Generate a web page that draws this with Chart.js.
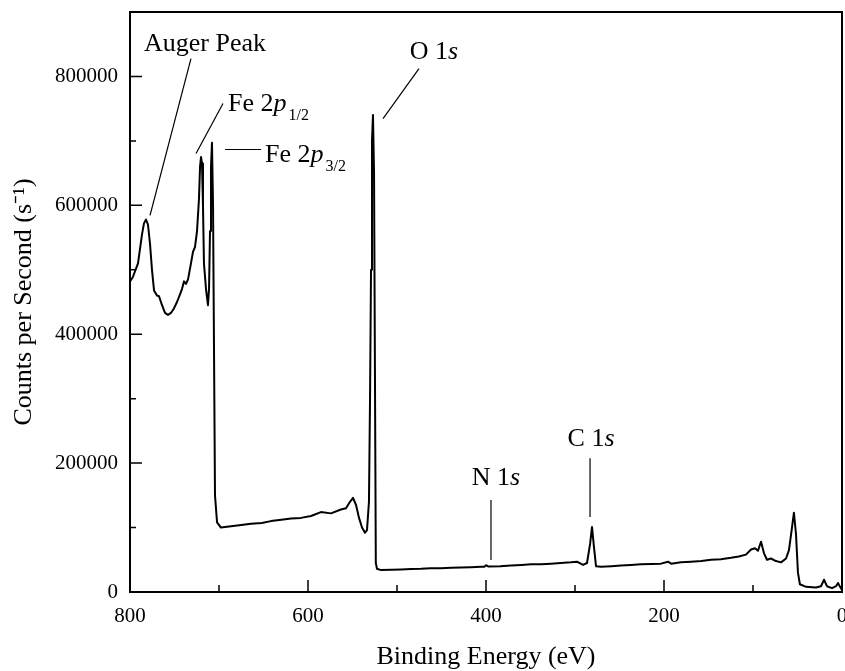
<!DOCTYPE html>
<html>
<head>
<meta charset="utf-8">
<script src="https://cdn.jsdelivr.net/npm/chart.js@4.4.1/dist/chart.umd.min.js"></script>
<style>
  html, body { margin: 0; padding: 0; background: #fff; }
  #wrap { width: 845px; height: 671px; position: relative; }
</style>
</head>
<body>
<div id="wrap"><canvas id="xpsChart"></canvas></div>
<script>
// binding energy (eV) and counts
const energy = [800, 797, 791, 786.5, 784.3, 782, 779.8, 777.5, 775.3, 773, 769.7, 767.4, 764, 760.7, 757.3, 754, 750.6, 747.2,
    743.8, 741.6, 739.3, 737.1, 734.8, 731.5, 729.2, 727, 724.7, 722.5, 721.3, 720.2, 719.1, 718, 716.9, 714.6, 712.4, 711.2,
    710.1, 709, 707.9, 706.7, 704.5, 702.2, 697.8, 686.5, 675, 664, 652, 641.6, 630, 619, 608, 596.6, 585.4, 574.2, 563,
    557.3, 552.8, 549.4, 546, 542.7, 539.3, 536, 533.7, 531.5, 530.3, 529.2, 528.1, 527, 525.8, 523.8, 522.5, 518,
    506, 495.5, 484, 473, 462, 450.6, 439, 428, 417, 405.6, 402, 400, 397, 384, 372, 360, 349.4, 338, 327, 316, 304.5, 297.8,
    291, 286.5, 283, 280.9, 278.7, 276.4, 270.8, 259, 248.3, 237, 226, 214, 203.4, 195.5, 192, 181, 169.7, 158, 147.2, 136,
    124.7, 116, 107.9, 102.2, 97.8, 94.4, 91, 87.6, 84.3, 79.8, 74.2, 68.5, 62.9, 59.6, 56.2, 54, 51.7, 49.5, 47.3, 40.4, 29.2,
    23.6, 20.2, 16.9, 11.2, 6.7, 4.5, 2.2, 0];
const counts = [482000, 488000, 510000, 555000, 572000, 578000, 570000, 540000, 500000, 468000, 460000, 459000, 445000, 433000,
    430000, 433000, 440000, 450000, 462000, 470000, 482000, 478000, 485000, 510000, 528000, 535000, 560000, 610000, 660000,
    675000, 665000, 600000, 510000, 470000, 445000, 470000, 560000, 660000, 697000, 600000, 150000, 108000, 100000,
    102000, 104000, 106000, 107000, 110000, 112000, 114000, 115000, 118000, 124000, 122000, 128000, 130000, 140000, 146000,
    135000, 115000, 100000, 92000, 96000, 140000, 300000, 500000, 700000, 740000, 650000, 45000, 36000, 34000, 34500,
    35000, 35500, 36000, 37000, 37000, 37500, 38000, 38500, 39000, 39000, 41500, 39500, 40000, 41000, 42000, 43000, 43000,
    44000, 45000, 46000, 47000, 42000, 45000, 75000, 101000, 70000, 40000, 39000, 40000, 41000, 42000, 43000, 43500, 44000,
    47000, 44000, 46000, 47000, 48000, 50000, 51000, 53000, 55000, 58000, 66000, 68000, 64000, 78000, 60000, 50000, 52000,
    48000, 46000, 52000, 65000, 100000, 123000, 90000, 30000, 12000, 8000, 7000, 9000, 19000, 9000, 6000, 9000, 14000, 8000,
    3000];

const xTicksStep = 100;
const yTicksStep = 100000;

// peak labels: text parts, text anchor and leader line, all in data units
const peakLabels = [
    { parts: [['Auger Peak', 'n']], at: [784.3, 840100], align: 'left', line: [[731.5, 827700], [777.5, 584350]] },
    { parts: [['Fe 2', 'n'], ['p', 'i'], ['1/2', 's']], at: [689.9, 747100], align: 'left', line: [[695.5, 758000], [725.8, 680450]] },
    { parts: [['Fe 2', 'n'], ['p', 'i'], ['3/2', 's']], at: [648.3, 666500], align: 'left', line: [[693.3, 686650], [652.8, 686650]] },
    { parts: [['O 1', 'n'], ['s', 'i']], at: [458.4, 827700], align: 'center', line: [[475.3, 812200], [515.7, 734700]] },
    { parts: [['N 1', 'n'], ['s', 'i']], at: [388.8, 165850], align: 'center', line: [[394.4, 142600], [394.4, 49600]] },
    { parts: [['C 1', 'n'], ['s', 'i']], at: [282, 226300], align: 'center', line: [[283.1, 207700], [283.1, 116250]] }
];

const serif = '"Liberation Serif", "Times New Roman", serif';

function fontFor(style) {
    if (style === 'i') return 'italic 26px ' + serif;
    if (style === 's') return '16px ' + serif;
    return '26px ' + serif;
}

const framePlugin = {
    id: 'frame',
    afterDraw(chart) {
        const ctx = chart.ctx;
        const area = chart.chartArea;
        const xs = chart.scales.x;
        const ys = chart.scales.y;
        ctx.save();
        ctx.strokeStyle = '#000';
        ctx.lineWidth = 2;
        ctx.strokeRect(area.left, area.top, area.right - area.left, area.bottom - area.top);

        // inward tick marks
        ctx.lineWidth = 1.5;
        ctx.beginPath();
        xs.ticks.forEach(t => {
            const px = xs.getPixelForValue(t.value);
            const len = t.value % 200 === 0 ? 12 : 7;
            ctx.moveTo(px, area.bottom);
            ctx.lineTo(px, area.bottom - len);
        });
        ys.ticks.forEach(t => {
            const py = ys.getPixelForValue(t.value);
            const len = t.value % 200000 === 0 ? 12 : 6;
            ctx.moveTo(area.left, py);
            ctx.lineTo(area.left + len, py);
        });
        ctx.stroke();

        // peak labels
        ctx.fillStyle = '#000';
        ctx.textBaseline = 'alphabetic';
        ctx.lineWidth = 1.2;
        peakLabels.forEach(lab => {
            ctx.beginPath();
            ctx.moveTo(xs.getPixelForValue(lab.line[0][0]), ys.getPixelForValue(lab.line[0][1]));
            ctx.lineTo(xs.getPixelForValue(lab.line[1][0]), ys.getPixelForValue(lab.line[1][1]));
            ctx.stroke();

            let total = 0;
            lab.parts.forEach(p => {
                ctx.font = fontFor(p[1]);
                total += ctx.measureText(p[0]).width + (p[1] === 's' ? 2 : 0);
            });
            let x = xs.getPixelForValue(lab.at[0]);
            const y = ys.getPixelForValue(lab.at[1]);
            if (lab.align === 'center') x -= total / 2;
            ctx.textAlign = 'left';
            lab.parts.forEach(p => {
                ctx.font = fontFor(p[1]);
                if (p[1] === 's') {
                    x += 2;
                    ctx.fillText(p[0], x, y + 9);
                } else {
                    ctx.fillText(p[0], x, y);
                }
                x += ctx.measureText(p[0]).width;
            });
        });
        ctx.restore();
    }
};

const ctx = document.getElementById('xpsChart').getContext('2d');
new Chart(ctx, {
    type: 'line',
    data: {
        datasets: [{
            data: energy.map((e, i) => ({ x: e, y: counts[i] })),
            borderColor: '#000',
            borderWidth: 2,
            borderJoinStyle: 'round',
            borderCapStyle: 'round',
            pointRadius: 0,
            tension: 0,
            fill: false
        }]
    },
    options: {
        responsive: true,
        maintainAspectRatio: false,
        animation: false,
        layout: { padding: { top: 12, right: 3, left: 0, bottom: 0 } },
        plugins: {
            legend: { display: false },
            tooltip: { enabled: false }
        },
        scales: {
            x: {
                type: 'linear',
                reverse: true,
                min: 0,
                max: 800,
                grid: { display: false, drawTicks: false },
                border: { display: false },
                ticks: {
                    stepSize: xTicksStep,
                    padding: 12,
                    color: '#000',
                    font: { family: serif, size: 21 },
                    maxRotation: 0,
                    autoSkip: false,
                    callback: v => (v % 200 === 0 ? String(v) : '')
                },
                title: {
                    display: true,
                    text: 'Binding Energy (eV)',
                    color: '#000',
                    font: { family: serif, size: 26 },
                    padding: { top: 0, bottom: -2 }
                },
                afterFit(scale) {
                    scale.height = 79;
                    scale.paddingLeft = 0;
                    scale.paddingRight = 0;
                }
            },
            y: {
                min: 0,
                max: 900000,
                grid: { display: false, drawTicks: false },
                border: { display: false },
                ticks: {
                    stepSize: yTicksStep,
                    padding: 12,
                    color: '#000',
                    font: { family: serif, size: 21 },
                    autoSkip: false,
                    callback: v => (v % 200000 === 0 ? String(v) : '')
                },
                title: {
                    display: true,
                    text: 'Counts per Second (s⁻¹)',
                    color: '#000',
                    font: { family: serif, size: 26 },
                    padding: { top: 9, bottom: 0 }
                },
                afterFit(scale) {
                    scale.width = 130;
                    scale.paddingTop = 0;
                    scale.paddingBottom = 0;
                }
            }
        }
    },
    plugins: [framePlugin]
});
</script>
</body>
</html>
